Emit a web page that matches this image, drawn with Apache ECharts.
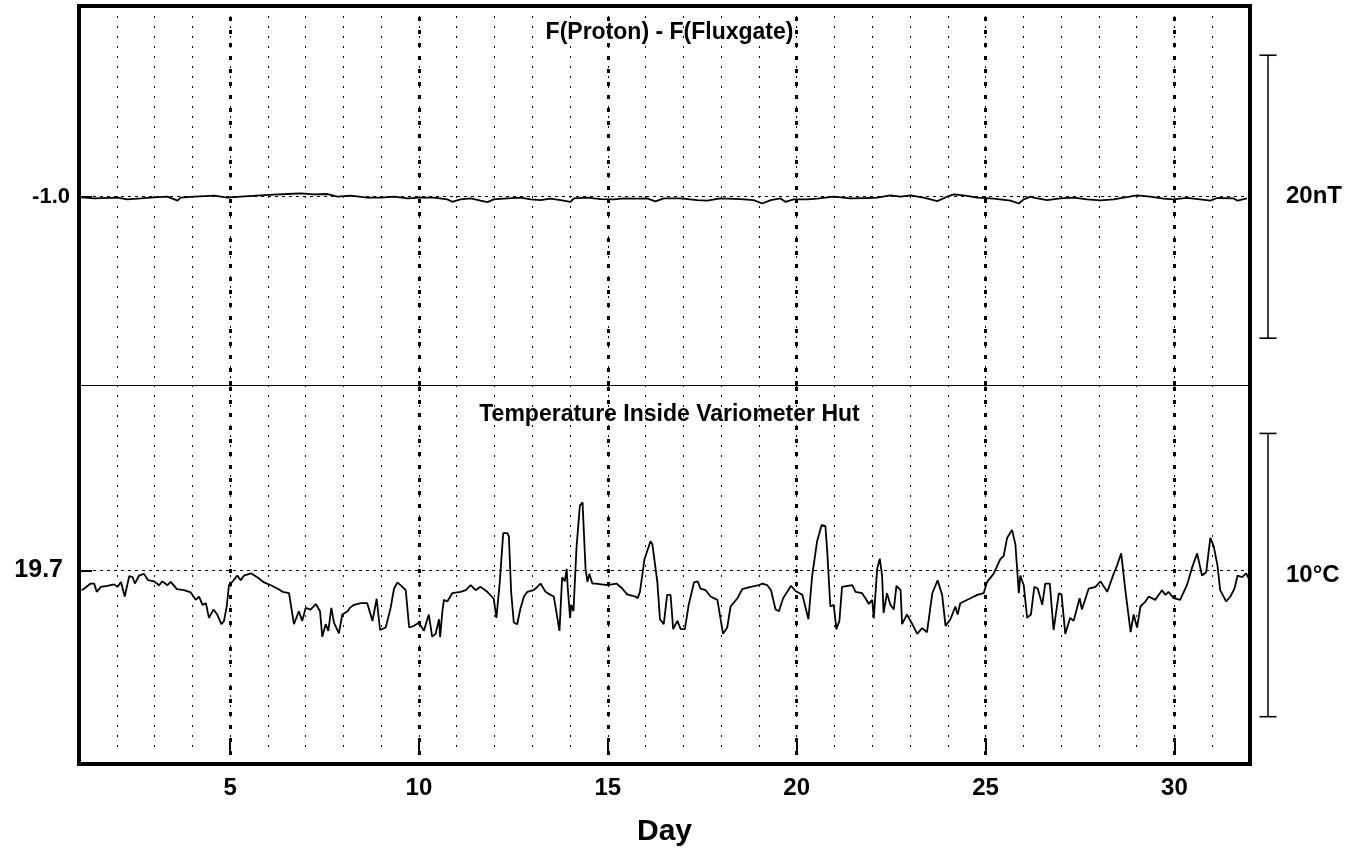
<!DOCTYPE html>
<html>
<head>
<meta charset="utf-8">
<script src="https://cdn.jsdelivr.net/npm/echarts@6/dist/echarts.min.js"></script>
<style>
html,body{margin:0;padding:0;background:#fff;}
#chart{width:1356px;height:848px;}
</style>
</head>
<body>
<div id="chart"></div>
<script>
// ---- data ----
const tempDays = [1.07,1.14,1.31,1.40,1.47,1.58,1.75,1.93,2.02,2.11,2.21,2.33,2.42,2.48,2.59,2.72,2.83,2.99,3.12,3.21,3.34,3.43,3.59,3.78,3.96,4.09,4.18,4.27,4.36,4.44,4.56,4.66,4.77,4.84,4.91,4.97,5.06,5.19,5.28,5.37,5.55,5.72,5.90,6.08,6.25,6.39,6.56,6.69,6.82,6.91,7.00,7.13,7.27,7.38,7.44,7.53,7.60,7.68,7.75,7.88,7.97,8.11,8.17,8.28,8.46,8.63,8.77,8.88,8.97,9.12,9.25,9.34,9.43,9.56,9.65,9.74,9.87,10.00,10.13,10.26,10.35,10.44,10.53,10.56,10.62,10.66,10.75,10.88,11.10,11.24,11.37,11.50,11.63,11.81,11.98,12.05,12.14,12.23,12.34,12.38,12.44,12.51,12.60,12.69,12.78,12.87,13.03,13.11,13.22,13.35,13.48,13.57,13.72,13.79,13.86,13.91,13.94,14.00,14.03,14.09,14.17,14.26,14.33,14.41,14.46,14.51,14.59,14.68,14.98,15.23,15.38,15.51,15.73,15.79,15.85,15.97,16.13,16.18,16.31,16.38,16.48,16.57,16.66,16.73,16.84,16.93,17.04,17.14,17.28,17.38,17.45,17.59,17.72,17.90,18.05,18.16,18.25,18.43,18.56,18.78,19.00,19.09,19.22,19.32,19.44,19.53,19.64,19.75,19.85,19.97,20.15,20.31,20.41,20.54,20.66,20.76,20.81,20.89,20.98,21.05,21.13,21.20,21.47,21.56,21.73,21.82,21.91,22.00,22.04,22.13,22.20,22.26,22.30,22.39,22.48,22.57,22.64,22.75,22.79,22.92,23.06,23.19,23.32,23.45,23.59,23.73,23.85,23.94,24.07,24.20,24.26,24.33,24.60,24.78,24.95,25.04,25.21,25.39,25.48,25.57,25.70,25.79,25.88,25.92,26.01,26.10,26.20,26.29,26.38,26.50,26.58,26.70,26.80,26.94,27.01,27.11,27.24,27.33,27.49,27.55,27.73,27.91,28.04,28.22,28.39,28.48,28.59,28.70,28.84,28.92,29.01,29.10,29.23,29.32,29.49,29.67,29.76,29.84,29.98,30.15,30.33,30.47,30.60,30.73,30.84,30.95,31.04,31.14,31.21,31.37,31.48,31.59,31.67,31.79,31.90,31.96];
const tempC = [18.99,19.05,19.23,19.23,18.93,19.11,19.15,19.20,19.11,19.29,18.76,19.50,19.46,19.23,19.52,19.58,19.35,19.31,19.17,19.31,19.17,19.29,19.03,18.99,18.91,18.64,18.76,18.46,18.52,17.99,18.29,18.11,17.76,17.88,18.40,19.17,19.29,19.52,19.35,19.52,19.60,19.46,19.27,19.17,19.05,18.93,18.88,17.76,18.23,17.88,18.35,18.29,18.49,18.23,17.31,17.76,17.52,18.35,17.82,17.43,18.11,18.23,18.35,18.46,18.52,18.52,17.88,18.68,17.55,17.64,18.35,19.05,19.27,19.11,18.99,17.64,17.70,17.82,17.52,18.11,17.31,17.41,17.94,17.29,18.23,18.64,18.58,18.88,18.93,18.99,19.17,18.99,19.11,18.93,18.68,17.99,19.29,21.05,21.05,20.94,18.93,17.82,17.76,18.35,18.76,18.93,18.99,19.08,19.23,18.93,18.82,18.76,17.52,19.46,19.31,19.76,19.05,17.99,18.46,18.23,20.52,22.05,22.17,19.76,19.29,19.58,19.23,19.23,19.17,19.23,19.05,18.84,18.76,18.70,18.93,20.11,20.76,20.64,19.29,17.94,17.76,18.82,18.82,17.58,17.88,17.58,17.58,18.46,19.27,19.31,19.05,18.99,18.76,18.64,17.41,17.64,18.40,18.70,19.03,19.11,19.17,19.23,19.17,18.99,18.29,18.23,18.70,18.93,19.15,18.96,18.82,17.94,19.52,20.76,21.35,21.31,20.35,18.40,18.46,17.58,17.88,19.11,19.17,18.93,18.88,18.70,18.49,18.64,17.97,19.76,20.13,19.52,18.17,18.88,18.46,18.29,19.15,18.99,17.76,18.11,17.76,17.41,17.62,17.47,18.88,19.35,18.82,17.70,17.94,18.40,18.11,18.52,18.70,18.82,18.88,19.29,19.58,20.11,20.23,20.88,21.17,20.64,18.88,19.52,19.17,17.99,18.11,19.11,19.05,18.46,19.23,19.23,17.55,18.88,18.84,17.41,17.99,17.88,18.70,18.29,19.05,19.11,19.31,18.93,19.58,19.88,20.32,18.99,17.47,18.11,17.64,18.40,18.58,18.76,18.64,18.99,18.82,18.93,18.70,18.64,19.17,19.82,20.32,19.52,19.64,20.88,20.58,19.88,18.99,18.58,18.76,19.05,19.52,19.46,19.60,19.43];
const fDays = [1.07,1.40,2.02,2.28,2.64,2.99,3.34,3.61,3.69,4.05,4.58,4.93,5.28,5.81,6.16,6.52,6.87,7.22,7.58,7.84,8.19,8.63,8.99,9.34,9.69,10.04,10.40,10.75,10.88,11.10,11.37,11.63,11.81,11.98,12.34,12.69,12.96,13.22,13.48,13.75,14.01,14.10,14.46,14.81,15.16,15.42,15.78,16.04,16.26,16.48,16.92,17.37,17.63,17.98,18.51,18.86,19.09,19.31,19.57,19.70,19.92,20.28,20.54,20.98,21.42,21.86,22.13,22.48,22.75,23.01,23.36,23.72,23.98,24.16,24.42,24.78,25.21,25.66,25.88,26.01,26.19,26.27,26.63,26.98,27.33,27.69,28.04,28.39,29.01,29.36,29.71,29.98,30.33,30.68,30.95,31.13,31.57,31.67,31.92];
const fDiff = [-1.05,-1.12,-1.07,-1.19,-1.12,-1.05,-1.00,-1.28,-1.07,-1.00,-0.93,-1.07,-1.00,-0.91,-0.86,-0.81,-0.76,-0.83,-0.81,-1.00,-0.93,-1.07,-1.07,-1.00,-1.12,-1.07,-1.07,-1.19,-1.36,-1.19,-1.12,-1.28,-1.38,-1.19,-1.12,-1.07,-1.19,-1.24,-1.14,-1.24,-1.36,-1.12,-1.07,-1.17,-1.19,-1.12,-1.14,-1.12,-1.33,-1.12,-1.12,-1.24,-1.28,-1.12,-1.17,-1.24,-1.48,-1.24,-1.12,-1.36,-1.19,-1.19,-1.14,-1.00,-1.12,-1.09,-1.07,-0.91,-1.00,-0.91,-1.07,-1.31,-1.00,-0.83,-0.91,-1.07,-1.14,-1.28,-1.48,-1.19,-1.00,-1.07,-1.24,-1.12,-1.07,-1.19,-1.26,-1.19,-0.91,-1.00,-1.14,-1.19,-1.09,-1.19,-1.28,-1.09,-1.12,-1.28,-1.12];
const majorDays = [5, 10, 15, 20, 25, 30];
const dayRange = [1, 32];
const fRef = -1.0, fRange = [-14.31, 12.48], fBar = 20, fBarLabel = '20nT';
const tRef = 19.7, tRange = [13.03, 26.41], tBar = 10, tBarLabel = '10°C';
const titleTop = 'F(Proton) - F(Fluxgate)';
const titleBottom = 'Temperature Inside Variometer Hut';
const xName = 'Day';

// ---- layout ----
const L = 79, R = 1250, T = 6, MID = 385, B = 764, BARW = 36;
const FONT = '"Liberation Sans", Arial, Helvetica, sans-serif';
const minorGrid = {show: true, lineStyle: {color: '#000', width: 1, type: [2, 8]}};
const majorStyle = {color: '#000', width: 3, type: [4, 9]};
const refStyle = {color: '#000', width: 1, type: [3, 4]};

function baseX(grid, extra) {
  return Object.assign({
    gridIndex: grid, type: 'value', min: dayRange[0], max: dayRange[1], interval: 1,
    position: 'bottom',
    axisLine: {show: false, onZero: false}, axisTick: {show: false}, axisLabel: {show: false},
    splitLine: minorGrid
  }, extra || {});
}
function refY(grid, range, ref, fontSize, margin) {
  return {
    gridIndex: grid, type: 'value', min: range[0], max: range[1], position: 'left',
    axisLine: {show: false, onZero: false}, splitLine: {show: false},
    axisTick: {show: true, inside: true, length: 13, customValues: [ref], lineStyle: {color: '#000', width: 2}},
    axisLabel: {customValues: [ref], formatter: v => v.toFixed(1), color: '#000', fontFamily: FONT, fontWeight: 'bold', fontSize: fontSize, margin: margin}
  };
}
function barY(grid, range, ref, label) {
  return {
    gridIndex: grid, type: 'value', min: range[0], max: range[1], position: 'right',
    axisLine: {show: false, onZero: false}, splitLine: {show: false}, axisTick: {show: false},
    axisLabel: {customValues: [ref], formatter: () => label, color: '#000', fontFamily: FONT, fontWeight: 'bold', fontSize: 24, margin: 0}
  };
}
function marks(ref) {
  return {
    silent: true, symbol: 'none', label: {show: false}, animation: false,
    data: majorDays.map(d => ({xAxis: d, lineStyle: majorStyle}))
      .concat([{yAxis: ref, lineStyle: refStyle}])
  };
}

const chart = echarts.init(document.getElementById('chart'), null, {renderer: 'canvas'});
chart.setOption({
  backgroundColor: '#fff',
  animation: false,
  title: [
    {text: titleTop, left: (L + R) / 2, top: 16, textAlign: 'center',
     textStyle: {fontFamily: FONT, fontWeight: 'bold', fontSize: 23, color: '#000'}},
    {text: titleBottom, left: (L + R) / 2, top: 398, textAlign: 'center',
     textStyle: {fontFamily: FONT, fontWeight: 'bold', fontSize: 23, color: '#000'}}
  ],
  grid: [
    {left: L, top: T, width: R - L, height: MID - T},
    {left: L, top: MID, width: R - L, height: B - MID},
    {left: R, top: T, width: BARW, height: MID - T},
    {left: R, top: MID, width: BARW, height: B - MID}
  ],
  xAxis: [
    baseX(0, {axisLine: {show: true, onZero: false, lineStyle: {color: '#000', width: 1.2}}}),
    baseX(1),
    baseX(1, {
      interval: null, splitLine: {show: false},
      axisTick: {show: true, inside: true, length: 16, customValues: majorDays, lineStyle: {color: '#000', width: 2}},
      axisLabel: {show: true, customValues: majorDays, color: '#000', fontFamily: FONT, fontWeight: 'bold', fontSize: 24, margin: 21},
      name: xName, nameLocation: 'middle', nameGap: 62,
      nameTextStyle: {color: '#000', fontFamily: FONT, fontWeight: 'bold', fontSize: 30}
    }),
    {gridIndex: 2, type: 'value', min: 0, max: 1, show: false},
    {gridIndex: 3, type: 'value', min: 0, max: 1, show: false}
  ],
  yAxis: [
    refY(0, fRange, fRef, 22, 9),
    refY(1, tRange, tRef, 25, 16),
    barY(2, fRange, fRef, fBarLabel),
    barY(3, tRange, tRef, tBarLabel)
  ],
  series: [
    {type: 'line', xAxisIndex: 0, yAxisIndex: 0, symbol: 'none', z: 3,
     lineStyle: {color: '#000', width: 1.8},
     data: fDays.map((d, i) => [d, fDiff[i]]), markLine: marks(fRef)},
    {type: 'line', xAxisIndex: 1, yAxisIndex: 1, symbol: 'none', z: 3,
     lineStyle: {color: '#000', width: 1.8},
     data: tempDays.map((d, i) => [d, tempC[i]]), markLine: marks(tRef)},
    {type: 'line', xAxisIndex: 3, yAxisIndex: 2, symbol: 'rect', symbolSize: [17, 1.6],
     itemStyle: {color: '#000'}, lineStyle: {color: '#000', width: 1.5},
     data: [[0.5, fRef - fBar / 2], [0.5, fRef + fBar / 2]]},
    {type: 'line', xAxisIndex: 4, yAxisIndex: 3, symbol: 'rect', symbolSize: [17, 1.6],
     itemStyle: {color: '#000'}, lineStyle: {color: '#000', width: 1.5},
     data: [[0.5, tRef - tBar / 2], [0.5, tRef + tBar / 2]]}
  ],
  graphic: [
    {type: 'rect', z: 100, silent: true,
     shape: {x: L, y: T, width: R - L, height: B - T},
     style: {fill: 'none', stroke: '#000', lineWidth: 4}}
  ]
});
</script>
</body>
</html>
